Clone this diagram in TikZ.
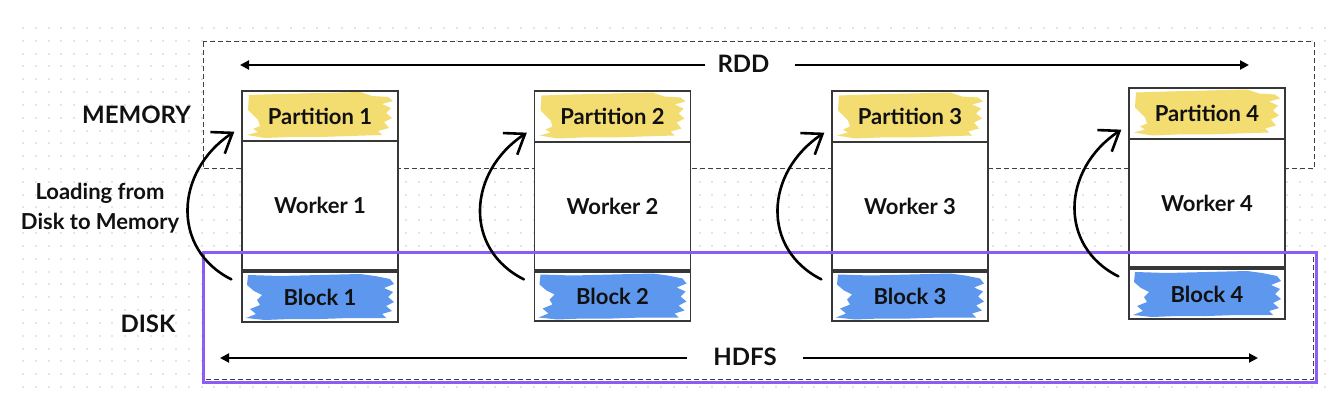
\documentclass[tikz,border=0pt]{standalone}
\usepackage{fontspec}
\setmainfont{Lato}
\usetikzlibrary{arrows.meta,calc}
\definecolor{ylw}{RGB}{244,221,112}
\definecolor{blu}{RGB}{94,152,238}
\definecolor{purp}{RGB}{140,92,246}
\definecolor{dotc}{RGB}{228,228,232}
\definecolor{ink}{RGB}{17,17,17}
\definecolor{edge}{RGB}{55,55,55}
\newcommand\ybrush[2]{%
 \begin{scope}[shift={({#1},{#2})}]
 \fill[ylw] (-71,-21) -- (-40,-22) -- (0,-23) -- (40,-24) -- (52,-20) -- (68,-19) -- (73,-15) -- (62,-12) -- (71,-8) -- (66,-3) -- (72,2) -- (64,6) -- (69,12) -- (58,15) -- (62,19) -- (30,20) -- (0,21) -- (-30,21) -- (-55,22) -- (-73,19) -- (-62,16) -- (-67,13) -- (-60,10) -- (-62,4) -- (-66,0) -- (-72,-6) -- cycle;
 \end{scope}}
\newcommand\bbrush[2]{%
 \begin{scope}[shift={({#1},{#2})}]
 \fill[blu] (-72,-22) -- (-40,-21) -- (0,-22) -- (40,-23) -- (55,-21) -- (70,-18) -- (74,-13) -- (64,-9) -- (73,-5) -- (68,0) -- (74,5) -- (66,9) -- (72,14) -- (62,17) -- (66,21) -- (30,21) -- (0,22) -- (-30,22) -- (-55,23) -- (-74,21) -- (-64,17) -- (-70,12) -- (-60,8) -- (-63,3) -- (-58,-2) -- (-66,-6) -- (-73,-12) -- cycle;
 \end{scope}}
\tikzset{
 lbl/.style={font=\fontsize{24}{28}\selectfont\bfseries, text=ink, inner sep=0pt},
 txt/.style={font=\fontsize{22}{30}\selectfont\bfseries, text=ink, inner sep=0pt, align=center},
 cellbox/.style={draw=edge, line width=1.3pt, minimum width=156pt, inner sep=0pt,
   font=\fontsize{22}{26}\selectfont\bfseries, text=ink},
 workbox/.style={cellbox, fill=white},
 rddframe/.style={draw=black!75, line width=1pt, dash pattern=on 5pt off 3pt},
 hdfsframe/.style={draw=purp, line width=3pt},
 flow/.style={draw=black, line width=2pt, -{Triangle[length=9pt,width=9pt]}},
 load/.style={draw=black, line width=2.6pt, line cap=round, -{Straight Barb[length=18pt,width=26pt,line width=2.6pt]}}
}
\newcommand\wcol[7]{%
 \fill[white] ({#2-78},#3) rectangle ({#2+78},#4);
 \ybrush{#2}{(#3+#4)/2}
 \node[cellbox, minimum height={#4-#3}] (p#1) at (#2,{(#3+#4)/2}) {Partition #1};
 \node[workbox, minimum height={#5-#4}] (w#1) at (#2,{(#4+#5)/2}) {Worker #1};
 \fill[white] ({#2-78},#6) rectangle ({#2+78},#7);
 \bbrush{#2}{(#6+#7)/2}
 \node[cellbox, minimum height={#7-#6}] (b#1) at (#2,{(#6+#7)/2}) {Block #1};
}
\begin{document}
\begin{tikzpicture}[x=1pt,y=-1pt]
\useasboundingbox (0,0) rectangle (1342,406);
% dotted background
\foreach \i in {0,...,102}{\foreach \j in {0,...,28}{
  \fill[dotc] ({23+\i*12.765-1},{28+\j*12.82-1}) rectangle ++(2,2);}}
% white areas of the frames
\fill[white] (203,42) rectangle (1314,169);
\fill[white] (203,253) rectangle (1316,382);
\draw[rddframe] (203,42) rectangle (1314,169);
\draw[rddframe] (204,253) rectangle (1313,379);
% workers
\wcol{1}{320}{91}{141}{270}{272}{322}
\wcol{2}{612.5}{91}{142}{270}{272}{321}
\wcol{3}{910}{91}{142}{270}{272}{321}
\wcol{4}{1207}{88}{139}{267}{269}{319}
% HDFS frame
\draw[hdfsframe] (203,253) rectangle (1316,382);
% labels
\node[lbl] (mem) at (136.5,115) {MEMORY};
\node[lbl] (disk) at (148,324) {DISK};
\node[txt] (load) at (100,208) {Loading from\\Disk to Memory};
\node[lbl] (rdd) at (743.5,64) {RDD};
\node[lbl] (hdfs) at (745,357) {HDFS};
\coordinate (rddL) at (240,65);
\coordinate (rddR) at (1249,65);
\coordinate (hdfsL) at (220,358);
\coordinate (hdfsR) at (1258,358);
\draw[flow] ([xshift=-12pt,yshift=-1pt]rdd.west) -- (rddL);
\draw[flow] ([xshift=25pt,yshift=-1pt]rdd.east) -- (rddR);
\draw[flow] ([xshift=-26pt,yshift=-1pt]hdfs.west) -- (hdfsL);
\draw[flow] ([xshift=26pt,yshift=-1pt]hdfs.east) -- (hdfsR);
% loading arrows
\foreach \k in {1,2,3,4}{
  \draw[load] ($(b\k.north west)+(-10,8)$) .. controls +(-60,-30) and +(-60,40) .. ($(p\k.south west)+(-7,-10)$);
}
\end{tikzpicture}
\end{document}
